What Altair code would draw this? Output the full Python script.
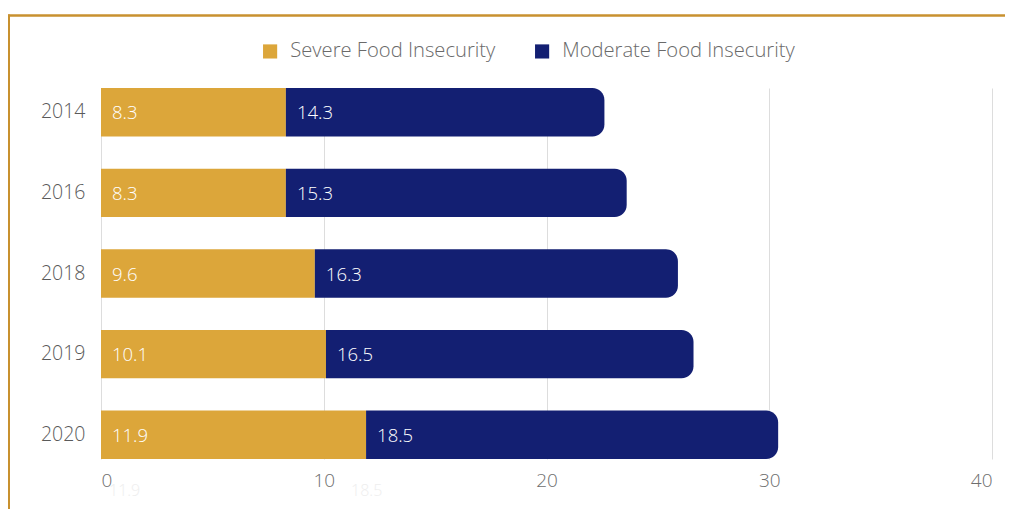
import altair as alt
import pandas as pd

years = ["2014", "2016", "2018", "2019", "2020"]
severe = [8.3, 8.3, 9.6, 10.1, 11.9]
moderate = [14.3, 15.3, 16.3, 16.5, 18.5]
series_names = ["Severe Food Insecurity", "Moderate Food Insecurity"]
x_ticks = [0, 10, 20, 30, 40]

GOLD = "#DCA63A"
NAVY = "#131F72"
FONT = "Open Sans"

rows = []
for y, s, m in zip(years, severe, moderate):
    rows.append({"year": y, "series": series_names[0], "start": 0.0, "end": s, "value": s})
    rows.append({"year": y, "series": series_names[1], "start": s, "end": s + m, "value": m})
df = pd.DataFrame(rows)

W, H = 891, 371

y_enc = alt.Y("year:N", sort=years, title=None,
              scale=alt.Scale(paddingInner=0.4, paddingOuter=0),
              axis=alt.Axis(labelFontSize=19.5, labelColor="#5a5a5a", labelFont=FONT,
                            labelFontWeight=300, labelPadding=16, ticks=False, domain=False))
x_enc = alt.X("start:Q", title=None,
              scale=alt.Scale(domain=[0, 40], nice=False),
              axis=alt.Axis(values=x_ticks, labelFontSize=19, labelColor="#6e6e6e", labelFont=FONT,
                            labelFontWeight=300, labelPadding=12, ticks=False, domain=False,
                            gridColor="#dddddd", gridWidth=1))
color_enc = alt.Color("series:N", title=None,
                      scale=alt.Scale(domain=series_names, range=[GOLD, NAVY]),
                      legend=alt.Legend(orient="none", legendX=159, legendY=-47, direction="horizontal",
                                        symbolType="square", symbolSize=200, symbolStrokeWidth=0,
                                        labelFontSize=20.2, labelColor="#6a6a6a", labelFont=FONT,
                                        labelFontWeight=300, labelOffset=10, columnPadding=36,
                                        labelLimit=400))

base = alt.Chart(df)

bar_sev = base.transform_filter(alt.datum.series == series_names[0]).mark_bar().encode(
    y=y_enc, x=x_enc, x2="end:Q", color=color_enc)
bar_mod = base.transform_filter(alt.datum.series == series_names[1]).mark_bar(
    cornerRadiusTopRight=12, cornerRadiusBottomRight=12).encode(
    y=y_enc, x=alt.X("start:Q"), x2="end:Q", color=color_enc)

labels = base.mark_text(align="left", baseline="middle", dx=11, dy=1, fontSize=18.5,
                        font=FONT, fontWeight=300, color="white").encode(
    y=alt.Y("year:N", sort=years), x=alt.X("start:Q"), text=alt.Text("value:Q", format=".1f"))

ghost_sev = base.transform_filter(
    (alt.datum.year == years[-1]) & (alt.datum.series == series_names[0])).mark_text(
    align="left", baseline="middle", dx=8, dy=56, fontSize=16, font=FONT, fontWeight=300,
    color="#eeeeee").encode(
    y=alt.Y("year:N", sort=years), x=alt.X("start:Q"), text=alt.Text("value:Q", format=".1f"))
ghost_mod = base.transform_filter(
    (alt.datum.year == years[-1]) & (alt.datum.series == series_names[1])).mark_text(
    align="left", baseline="middle", dx=-15, dy=56, fontSize=16, font=FONT, fontWeight=300,
    color="#eeeeee").encode(
    y=alt.Y("year:N", sort=years), x=alt.X("start:Q"), text=alt.Text("value:Q", format=".1f"))

frame_df = pd.DataFrame({"k": [0]})
frame_left = alt.Chart(frame_df).mark_rule(color="#C8912F", strokeWidth=3).encode(
    x=alt.value(-92.5), y=alt.value(-73.5), y2=alt.value(460))
frame_top = alt.Chart(frame_df).mark_rule(color="#C8912F", strokeWidth=2.5).encode(
    x=alt.value(-94), x2=alt.value(920), y=alt.value(-72.5))

chart = alt.layer(bar_sev, bar_mod, labels, ghost_sev, ghost_mod, frame_left, frame_top).properties(
    width=W, height=H,
    autosize=alt.AutoSizeParams(type="none"),
    padding={"left": 93, "top": 80, "right": 13, "bottom": 50},
    background="white",
).configure_view(strokeWidth=0, stroke="transparent")

chart.save("out.html", embed_options={"renderer": "svg", "actions": False})
